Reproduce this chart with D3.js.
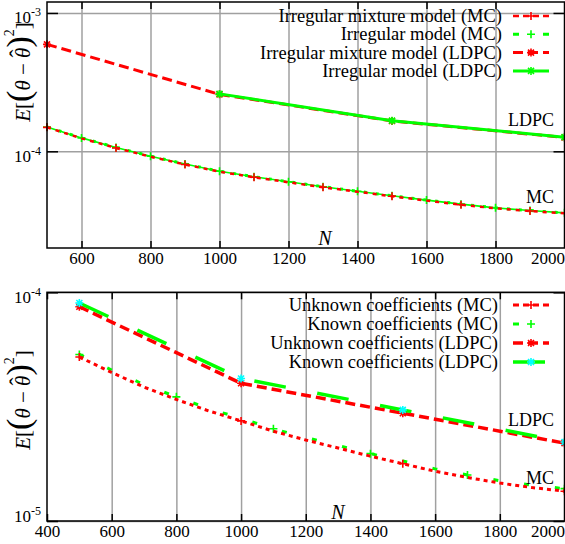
<!DOCTYPE html>
<html>
<head>
<meta charset="utf-8">
<title>Estimation error vs N</title>
<style>
  body { margin: 0; background: #fff; }
  svg text { font-family: "Liberation Serif", "Times New Roman", serif; fill: #000; }
</style>
</head>
<body>
<div id="container"></div>
<script src="https://d3js.org/d3.v7.min.js"></script>
<script>

// ---- TOP PANEL DATA ----
var topMcN = [500, 600, 700, 800, 900, 1000, 1100, 1200, 1300, 1400, 1500, 1600, 1700, 1800, 1900, 2000];
var topMixMC = [1.49e-4, 1.24e-4, 1.057e-4, 9.14e-5, 8.03e-5, 7.12e-5, 6.49e-5, 5.97e-5, 5.50e-5, 5.10e-5, 4.73e-5, 4.40e-5, 4.11e-5, 3.87e-5, 3.70e-5, 3.56e-5];
var topIrrMC = [1.50e-4, 1.25e-4, 1.067e-4, 9.22e-5, 8.10e-5, 7.18e-5, 6.55e-5, 6.02e-5, 5.55e-5, 5.14e-5, 4.77e-5, 4.44e-5, 4.15e-5, 3.90e-5, 3.73e-5, 3.59e-5];
var topMixLdpcN = [500, 1000, 1500, 2000];
var topMixLDPC = [5.93e-4, 2.58e-4, 1.656e-4, 1.259e-4];
var topIrrLdpcN = [1000, 1500, 2000];
var topIrrLDPC = [2.60e-4, 1.665e-4, 1.265e-4];
var topXTicks = [600, 800, 1000, 1200, 1400, 1600, 1800, 2000];
var topYTicks = [1e-4, 1e-3];
var topLegend = ["Irregular mixture model (MC)", "Irregular model (MC)", "Irregular mixture model (LDPC)", "Irregular model (LDPC)"];

// ---- BOTTOM PANEL DATA ----
var botMcN = [500, 600, 700, 800, 900, 1000, 1100, 1200, 1300, 1400, 1500, 1600, 1700, 1800, 1900, 2000];
var botUnkMC = [5.21e-5, 4.46e-5, 3.85e-5, 3.40e-5, 3.03e-5, 2.74e-5, 2.47e-5, 2.26e-5, 2.085e-5, 1.92e-5, 1.78e-5, 1.65e-5, 1.55e-5, 1.465e-5, 1.40e-5, 1.35e-5];
var botKnMC = [5.35e-5, 4.57e-5, 3.95e-5, 3.49e-5, 3.10e-5, 2.81e-5, 2.53e-5, 2.32e-5, 2.14e-5, 1.97e-5, 1.83e-5, 1.69e-5, 1.59e-5, 1.50e-5, 1.435e-5, 1.385e-5];
var botLdpcN = [500, 1000, 1500, 2000];
var botUnkLDPC = [8.65e-5, 4.00e-5, 2.96e-5, 2.19e-5];
var botKnLDPC = [8.98e-5, 4.20e-5, 3.06e-5, 2.215e-5];
var botXTicks = [400, 600, 800, 1000, 1200, 1400, 1600, 1800, 2000];
var botYTicks = [1e-5, 1e-4];
var botLegend = ["Unknown coefficients (MC)", "Known coefficients (MC)", "Unknown coefficients (LDPC)", "Known coefficients (LDPC)"];

var RED = "#ff0000", GREEN = "#00ff00", CYAN = "#00ffff";

var svg = d3.select("#container").append("svg")
  .attr("width", 565).attr("height", 544);

// marker shapes
var PLUS = "M-4,0H4M0,-4V4";
var STAR = "M-4,0H4M0,-4V4M-3,-3L3,3M-3,3L3,-3";

function drawPanel(p) {
  var x = d3.scaleLinear().domain(p.xDomain).range([p.left, p.right]);
  var y = d3.scaleLog().domain(p.yDomain).range([p.bottom, p.top]);
  var g = svg.append("g");
  var h = p.bottom - p.top, w = p.right - p.left;

  // vertical grid
  g.append("g").attr("transform", "translate(0," + p.bottom + ")")
    .call(d3.axisBottom(x).tickValues(p.xTicks.filter(function (t) { return x(t) > p.left + 2 && x(t) < p.right - 2; }))
      .tickSize(-h).tickFormat(""))
    .call(function (a) {
      a.select(".domain").remove();
      a.selectAll("line").attr("stroke", "#a0a0a0").attr("stroke-width", 1.5);
    });
  // horizontal grid
  g.append("g").attr("transform", "translate(" + p.left + ",0)")
    .call(d3.axisLeft(y).tickValues(p.yTicks).tickSize(-w).tickFormat(""))
    .call(function (a) {
      a.select(".domain").remove();
      a.selectAll("line").attr("stroke", "#a0a0a0").attr("stroke-width", 1.5);
    });

  // series
  p.series.forEach(function (s) {
    var line = d3.line().x(function (d, i) { return x(s.n[i]); }).y(function (d) { return y(d); });
    if (s.under) {
      g.append("path").datum(s.v).attr("d", line).attr("fill", "none")
        .attr("stroke", s.color).attr("stroke-width", s.under);
    }
    g.append("path").datum(s.v).attr("d", line).attr("fill", "none")
      .attr("stroke", s.color).attr("stroke-width", s.width)
      .attr("stroke-dasharray", s.dash || null);
    if (s.marker) {
      g.selectAll(null).data(s.v.filter(function (d, i) { return i % (s.every || 1) === 0; }))
        .enter().append("path")
        .attr("transform", function (d) { var i = s.v.indexOf(d); return "translate(" + x(s.n[i]) + "," + y(d) + ")"; })
        .attr("d", s.marker).attr("fill", "none")
        .attr("stroke", s.markColor || s.color).attr("stroke-width", 1.6);
    }
  });

  // frame
  g.append("rect").attr("x", p.left).attr("y", p.top).attr("width", w).attr("height", h)
    .attr("fill", "none").attr("stroke", "#000").attr("stroke-width", 1.5);

  // ticks + labels
  g.append("g").attr("transform", "translate(0," + p.bottom + ")")
    .call(d3.axisBottom(x).tickValues(p.xTicks).tickSize(-7).tickPadding(4).tickFormat(d3.format("d")))
    .call(function (a) {
      a.select(".domain").remove();
      a.selectAll("line").attr("stroke", "#000").attr("stroke-width", 1.5);
      a.selectAll("text").attr("font-size", 17).attr("font-family", "Liberation Serif");
      // last label sits against the right edge of the picture
      a.selectAll("text").filter(function (d) { return d === p.xDomain[1]; })
        .attr("text-anchor", "end").attr("x", 0);
    });
  g.append("g").attr("transform", "translate(0," + p.top + ")")
    .call(d3.axisTop(x).tickValues(p.xTicks).tickSize(-7).tickFormat(""))
    .call(function (a) {
      a.select(".domain").remove();
      a.selectAll("line").attr("stroke", "#000").attr("stroke-width", 1.5);
    });
  g.append("g").attr("transform", "translate(" + p.left + ",0)")
    .call(d3.axisLeft(y).tickValues(p.yTicks).tickSize(-11).tickFormat(""))
    .call(function (a) {
      a.select(".domain").remove();
      a.selectAll("line").attr("stroke", "#000").attr("stroke-width", 1.5);
      a.selectAll(".tick").each(function (d) {
        var ty = y(d);
        var off = Math.min(4, p.bottom - 6 - ty);
        var t = d3.select(this).append("text").attr("x", -6).attr("y", off + 6)
          .attr("text-anchor", "end").attr("font-size", 17).attr("font-family", "Liberation Serif");
        t.append("tspan").text("10");
        t.append("tspan").attr("font-size", 12).attr("dy", -7).text("-" + Math.round(-Math.log10(d)));
      });
    });
  g.append("g").attr("transform", "translate(" + p.right + ",0)")
    .call(d3.axisRight(y).tickValues(p.yTicks).tickSize(-11).tickFormat(""))
    .call(function (a) {
      a.select(".domain").remove();
      a.selectAll("line").attr("stroke", "#000").attr("stroke-width", 1.5);
    });

  // legend
  p.legend.forEach(function (name, i) {
    var s = p.series[p.legendOrder[i]];
    var ly = p.legendY + i * p.legendDy;
    g.append("text").attr("x", p.legendX).attr("y", ly).attr("dy", "0.33em")
      .attr("text-anchor", "end").attr("font-size", 18.5).text(name);
    g.append("line").attr("x1", 513).attr("x2", 549).attr("y1", ly).attr("y2", ly)
      .attr("stroke", s.color).attr("stroke-width", s.width)
      .attr("stroke-dasharray", s.legendDash || s.dash || null);
    if (s.marker) {
      g.append("path").attr("transform", "translate(531," + ly + ")").attr("d", s.marker)
        .attr("fill", "none").attr("stroke", s.markColor || s.color).attr("stroke-width", 1.6);
    }
  });

  // curve tags and axis title
  g.append("text").attr("x", 531).attr("y", p.ldpcY).attr("dy", "0.33em").attr("text-anchor", "middle")
    .attr("font-size", 18).text("LDPC");
  g.append("text").attr("x", 540).attr("y", p.mcY).attr("dy", "0.33em").attr("text-anchor", "middle")
    .attr("font-size", 18).text("MC");
  g.append("text").attr("x", p.nX).attr("y", p.nY).attr("dy", "0.33em").attr("text-anchor", "middle")
    .attr("font-size", 20).attr("font-style", "italic").text("N");

  // y label  E[(θ − θ̂)²]
  var yl = g.append("text").attr("transform", "translate(30," + p.ylabY + ") rotate(-90)")
    .attr("text-anchor", "middle").attr("font-size", 21);
  yl.append("tspan").attr("font-style", "italic").text("E");
  yl.append("tspan").text("[");
  yl.append("tspan").attr("font-size", 34).text("(");
  yl.append("tspan").attr("font-style", "italic").text("θ");
  yl.append("tspan").text(" − ");
  yl.append("tspan").attr("font-style", "italic").text("θ");
  yl.append("tspan").attr("dx", -10).attr("dy", -4).attr("font-size", 24).text("\u02C6");
  yl.append("tspan").attr("font-size", 34).attr("dx", 2).attr("dy", 4).text(")");
  yl.append("tspan").attr("font-size", 14).attr("dy", -16).text("2");
  yl.append("tspan").attr("dy", 16).text("]");
}

drawPanel({
  left: 47, right: 564.5, top: 2, bottom: 248,
  xDomain: [500, 2000], yDomain: [2e-5, 1.2e-3],
  xTicks: topXTicks, yTicks: topYTicks,
  series: [
    { n: topMcN, v: topIrrMC, color: GREEN, width: 3, under: 1.6, dash: "3,9", marker: PLUS, legendDash: "6,24" },
    { n: topMcN, v: topMixMC, color: RED, width: 2.5, dash: "4,5", marker: PLUS, every: 2, legendDash: "6,4" },
    { n: topMixLdpcN, v: topMixLDPC, color: RED, width: 3, dash: "10,5", marker: STAR, legendDash: "10,5" },
    { n: topIrrLdpcN, v: topIrrLDPC, color: GREEN, width: 3, marker: STAR }
  ],
  legend: topLegend, legendOrder: [1, 0, 2, 3], legendX: 502, legendY: 16, legendDy: 18.3,
  ldpcY: 120, mcY: 197, nX: 325, nY: 238, ylabY: 72
});

drawPanel({
  left: 47, right: 564.5, top: 292.3, bottom: 521,
  xDomain: [400, 2000], yDomain: [1e-5, 1e-4],
  xTicks: botXTicks, yTicks: botYTicks,
  series: [
    { n: botMcN, v: botKnMC, color: GREEN, width: 3, dash: "5,26", marker: PLUS, every: 3, legendDash: "6,40" },
    { n: botMcN, v: botUnkMC, color: RED, width: 3, dash: "4,4", legendDash: "6,4", marker: PLUS, every: 5 },
    { n: botLdpcN, v: botUnkLDPC, color: RED, width: 3.5, dash: "10,5", marker: STAR, legendDash: "10,5" },
    { n: botLdpcN, v: botKnLDPC, color: GREEN, width: 3.5, dash: "32,32", marker: STAR, markColor: CYAN, legendDash: null }
  ],
  legend: botLegend, legendOrder: [1, 0, 2, 3], legendX: 498, legendY: 305, legendDy: 19,
  ldpcY: 420, mcY: 478, nX: 338, nY: 512, ylabY: 400
});

</script>
</body>
</html>
